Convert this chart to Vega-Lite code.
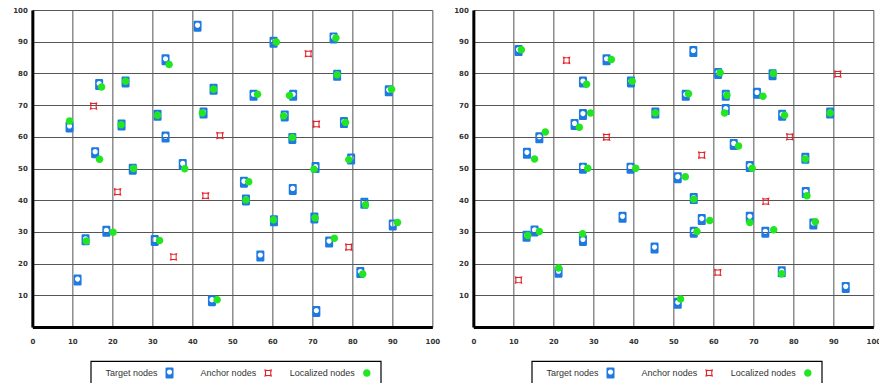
{
  "$schema": "https://vega.github.io/schema/vega-lite/v6.json",
  "background": "white",
  "padding": {"left": 12, "top": 6, "right": 0, "bottom": 0},
  "bounds": "full",
  "spacing": 13,
  "config": {
    "view": {"stroke": null},
    "axis": {
      "grid": true, "gridColor": "#555555", "gridWidth": 1, "gridOpacity": 1,
      "domainColor": "black", "domainWidth": 3, "ticks": false, "labelFlush": false,
      "labelFont": "DejaVu Sans", "labelFontWeight": "bold", "labelFontSize": 7, "labelColor": "#333",
      "title": null
    },
    "point": {"filled": true, "opacity": 1, "size": 121, "strokeWidth": 0}
  },
  "datasets": {
    "legend": [{"t":"Target nodes"},{"t":"Anchor nodes"},{"t":"Localized nodes"}],
    "left": [
      {"t":"Target nodes","x":41.3,"y":94.9},{"t":"Target nodes","x":33.3,"y":84.3},{"t":"Target nodes","x":16.7,"y":76.5},{"t":"Target nodes","x":23.3,"y":77.3},{"t":"Target nodes","x":9.3,"y":63.1},{"t":"Target nodes","x":22.3,"y":63.7},{"t":"Target nodes","x":31.3,"y":66.8},{"t":"Target nodes","x":33.3,"y":59.9},{"t":"Target nodes","x":42.8,"y":67.5},{"t":"Target nodes","x":45.3,"y":75},{"t":"Target nodes","x":15.7,"y":55},{"t":"Target nodes","x":25.1,"y":49.8},{"t":"Target nodes","x":37.6,"y":51.3},{"t":"Target nodes","x":60.3,"y":89.8},{"t":"Target nodes","x":75.3,"y":91.2},{"t":"Target nodes","x":76.2,"y":79.4},{"t":"Target nodes","x":55.3,"y":73.1},{"t":"Target nodes","x":65.2,"y":73.1},{"t":"Target nodes","x":89.1,"y":74.5},{"t":"Target nodes","x":63.1,"y":66.6},{"t":"Target nodes","x":77.9,"y":64.5},{"t":"Target nodes","x":65,"y":59.5},{"t":"Target nodes","x":79.7,"y":53},{"t":"Target nodes","x":70.8,"y":50.3},{"t":"Target nodes","x":13.3,"y":27.5},{"t":"Target nodes","x":18.5,"y":30.2},{"t":"Target nodes","x":30.6,"y":27.3},{"t":"Target nodes","x":11.3,"y":14.8},{"t":"Target nodes","x":44.9,"y":8.3},{"t":"Target nodes","x":52.9,"y":45.7},{"t":"Target nodes","x":65.1,"y":43.4},{"t":"Target nodes","x":53.4,"y":40.1},{"t":"Target nodes","x":83,"y":39},{"t":"Target nodes","x":60.4,"y":33.5},{"t":"Target nodes","x":70.5,"y":34.4},{"t":"Target nodes","x":90.1,"y":32.2},{"t":"Target nodes","x":74.2,"y":26.8},{"t":"Target nodes","x":57,"y":22.4},{"t":"Target nodes","x":82,"y":17.2},{"t":"Target nodes","x":71,"y":4.9},
      {"t":"Anchor nodes","x":15.3,"y":69.7},{"t":"Anchor nodes","x":46.9,"y":60.4},{"t":"Anchor nodes","x":69,"y":86.2},{"t":"Anchor nodes","x":71,"y":64},{"t":"Anchor nodes","x":21.3,"y":42.6},{"t":"Anchor nodes","x":43.3,"y":41.4},{"t":"Anchor nodes","x":35.3,"y":22.1},{"t":"Anchor nodes","x":79.1,"y":25.2},
      {"t":"Localized nodes","x":34.2,"y":82.8},{"t":"Localized nodes","x":17.3,"y":75.7},{"t":"Localized nodes","x":23.3,"y":77.5},{"t":"Localized nodes","x":9.3,"y":65},{"t":"Localized nodes","x":22.2,"y":63.8},{"t":"Localized nodes","x":31.3,"y":66.8},{"t":"Localized nodes","x":42.5,"y":67.5},{"t":"Localized nodes","x":45.3,"y":75},{"t":"Localized nodes","x":16.8,"y":52.9},{"t":"Localized nodes","x":25.3,"y":50},{"t":"Localized nodes","x":38.1,"y":49.9},{"t":"Localized nodes","x":61,"y":89.9},{"t":"Localized nodes","x":75.9,"y":91.2},{"t":"Localized nodes","x":76.2,"y":79.6},{"t":"Localized nodes","x":56.3,"y":73.4},{"t":"Localized nodes","x":64.3,"y":73},{"t":"Localized nodes","x":89.8,"y":75},{"t":"Localized nodes","x":62.8,"y":66.6},{"t":"Localized nodes","x":78.3,"y":64.5},{"t":"Localized nodes","x":65,"y":59.8},{"t":"Localized nodes","x":79.1,"y":52.8},{"t":"Localized nodes","x":70.4,"y":49.8},{"t":"Localized nodes","x":13.5,"y":27.1},{"t":"Localized nodes","x":20.2,"y":29.9},{"t":"Localized nodes","x":31.8,"y":27.3},{"t":"Localized nodes","x":46.2,"y":8.6},{"t":"Localized nodes","x":54.1,"y":45.8},{"t":"Localized nodes","x":53.4,"y":40.1},{"t":"Localized nodes","x":83.3,"y":38.6},{"t":"Localized nodes","x":60.3,"y":33.8},{"t":"Localized nodes","x":70.7,"y":34.4},{"t":"Localized nodes","x":91.3,"y":33},{"t":"Localized nodes","x":75.5,"y":28},{"t":"Localized nodes","x":82.6,"y":16.7}
    ],
    "right": [
      {"t":"Target nodes","x":11.3,"y":87.2},{"t":"Target nodes","x":33.3,"y":84.3},{"t":"Target nodes","x":27.4,"y":77.3},{"t":"Target nodes","x":39.4,"y":77.3},{"t":"Target nodes","x":45.5,"y":67.5},{"t":"Target nodes","x":27.4,"y":67},{"t":"Target nodes","x":25.3,"y":63.9},{"t":"Target nodes","x":16.5,"y":59.7},{"t":"Target nodes","x":13.4,"y":54.8},{"t":"Target nodes","x":27.4,"y":50.1},{"t":"Target nodes","x":39.3,"y":50.1},{"t":"Target nodes","x":55,"y":86.9},{"t":"Target nodes","x":61.2,"y":80},{"t":"Target nodes","x":74.8,"y":79.6},{"t":"Target nodes","x":53.1,"y":73.1},{"t":"Target nodes","x":63.1,"y":73.1},{"t":"Target nodes","x":70.9,"y":73.7},{"t":"Target nodes","x":63.1,"y":68.6},{"t":"Target nodes","x":77.2,"y":66.8},{"t":"Target nodes","x":89.2,"y":67.5},{"t":"Target nodes","x":65.1,"y":57.6},{"t":"Target nodes","x":69.1,"y":50.6},{"t":"Target nodes","x":83,"y":53.2},{"t":"Target nodes","x":37.3,"y":34.6},{"t":"Target nodes","x":13.3,"y":28.6},{"t":"Target nodes","x":15.3,"y":30.3},{"t":"Target nodes","x":27.4,"y":27.3},{"t":"Target nodes","x":21.3,"y":17.3},{"t":"Target nodes","x":45.3,"y":24.9},{"t":"Target nodes","x":51.1,"y":47.1},{"t":"Target nodes","x":55.1,"y":40.5},{"t":"Target nodes","x":83.1,"y":42.4},{"t":"Target nodes","x":57.1,"y":33.9},{"t":"Target nodes","x":69.1,"y":34.6},{"t":"Target nodes","x":55.1,"y":29.9},{"t":"Target nodes","x":73,"y":29.9},{"t":"Target nodes","x":85,"y":32.5},{"t":"Target nodes","x":77.1,"y":17.4},{"t":"Target nodes","x":93.1,"y":12.5},{"t":"Target nodes","x":51.1,"y":7.5},
      {"t":"Anchor nodes","x":23.3,"y":84.1},{"t":"Anchor nodes","x":33.3,"y":59.9},{"t":"Anchor nodes","x":91.1,"y":79.8},{"t":"Anchor nodes","x":79.1,"y":60},{"t":"Anchor nodes","x":57.1,"y":54.2},{"t":"Anchor nodes","x":11.3,"y":14.8},{"t":"Anchor nodes","x":73.1,"y":39.6},{"t":"Anchor nodes","x":61.1,"y":17.2},
      {"t":"Localized nodes","x":12,"y":87.5},{"t":"Localized nodes","x":34.5,"y":84.4},{"t":"Localized nodes","x":28.3,"y":76.6},{"t":"Localized nodes","x":39.7,"y":77.5},{"t":"Localized nodes","x":45.5,"y":67.5},{"t":"Localized nodes","x":29.3,"y":67.5},{"t":"Localized nodes","x":26.5,"y":63},{"t":"Localized nodes","x":18,"y":61.5},{"t":"Localized nodes","x":15.3,"y":53},{"t":"Localized nodes","x":28.6,"y":50.1},{"t":"Localized nodes","x":40.6,"y":50.1},{"t":"Localized nodes","x":61.7,"y":80.2},{"t":"Localized nodes","x":75,"y":80},{"t":"Localized nodes","x":53.8,"y":73.6},{"t":"Localized nodes","x":63.4,"y":73.1},{"t":"Localized nodes","x":72.4,"y":72.8},{"t":"Localized nodes","x":62.8,"y":67.5},{"t":"Localized nodes","x":77.8,"y":66.8},{"t":"Localized nodes","x":89.2,"y":67.5},{"t":"Localized nodes","x":66.3,"y":57.1},{"t":"Localized nodes","x":69.7,"y":50.1},{"t":"Localized nodes","x":83,"y":53},{"t":"Localized nodes","x":13.6,"y":28.9},{"t":"Localized nodes","x":16.5,"y":30.1},{"t":"Localized nodes","x":27.3,"y":29.4},{"t":"Localized nodes","x":21.3,"y":18.6},{"t":"Localized nodes","x":53,"y":47.4},{"t":"Localized nodes","x":55.1,"y":40.3},{"t":"Localized nodes","x":83.4,"y":41.4},{"t":"Localized nodes","x":59.1,"y":33.6},{"t":"Localized nodes","x":69.1,"y":33},{"t":"Localized nodes","x":55.9,"y":30.1},{"t":"Localized nodes","x":75.1,"y":30.7},{"t":"Localized nodes","x":85.5,"y":33.2},{"t":"Localized nodes","x":77.1,"y":16.8},{"t":"Localized nodes","x":51.8,"y":8.8}
    ]
  },
  "hconcat": [
    {
      "vconcat": [
        {
          "width": 400, "height": 317,
          "data": {"name": "left"},
          "mark": {"type": "point"},
          "encoding": {
            "x": {"field": "x", "type": "quantitative", "scale": {"domain": [0, 100], "nice": false},
                  "axis": {"values": [0,10,20,30,40,50,60,70,80,90,100], "labelPadding": 10}},
            "y": {"field": "y", "type": "quantitative", "scale": {"domain": [0, 100], "nice": false},
                  "axis": {"values": [10,20,30,40,50,60,70,80,90,100], "labelPadding": 5}},
            "color": {"field": "t", "type": "nominal", "legend": null,
              "scale": {"domain": ["Target nodes", "Anchor nodes", "Localized nodes"], "range": ["#1e7ae0", "#e42127", "#22e622"]}},
            "shape": {"field": "t", "type": "nominal", "legend": null,
              "scale": {"domain": ["Target nodes", "Anchor nodes", "Localized nodes"],
                        "range": [
                          "M-0.53,-1 L0.53,-1 Q0.73,-1 0.73,-0.8 L0.73,0.8 Q0.73,1 0.53,1 L-0.53,1 Q-0.73,1 -0.73,0.8 L-0.73,-0.8 Q-0.73,-1 -0.53,-1 Z M0.47,-0.18 A0.47,0.47 0 1 0 -0.47,-0.18 A0.47,0.47 0 1 0 0.47,-0.18 Z",
                          "M-0.7,-0.7 Q0,-0.4 0.7,-0.7 Q0.4,0 0.7,0.7 Q0,0.4 -0.7,0.7 Q-0.4,0 -0.7,-0.7 Z M-0.38,-0.38 L-0.38,0.38 L0.38,0.38 L0.38,-0.38 Z",
                          "M0.68,0 A0.68,0.68 0 1 1 -0.68,0 A0.68,0.68 0 1 1 0.68,0 Z"
                        ]}}
          }
        },
        {
          "width": 290, "height": 24,
          "view": {"stroke": "black", "strokeWidth": 1.2, "fill": "white"},
          "data": {"name": "legend"},
          "encoding": {
            "x": {"field": "t", "type": "nominal", "axis": null,
                  "scale": {"type": "point", "domain": ["Target nodes", "Anchor nodes", "Localized nodes"], "padding": 0.47, "align": 0.85}}
          },
          "layer": [
            {"mark": {"type": "text", "align": "right", "dx": -12, "font": "Liberation Sans", "fontSize": 9, "color": "#333"},
             "encoding": {"text": {"field": "t"}}},
            {"mark": {"type": "point"},
             "encoding": {
               "color": {"field": "t", "type": "nominal", "legend": null,
                 "scale": {"domain": ["Target nodes", "Anchor nodes", "Localized nodes"], "range": ["#1e7ae0", "#e42127", "#22e622"]}},
               "shape": {"field": "t", "type": "nominal", "legend": null,
                 "scale": {"domain": ["Target nodes", "Anchor nodes", "Localized nodes"],
                           "range": [
                             "M-0.53,-1 L0.53,-1 Q0.73,-1 0.73,-0.8 L0.73,0.8 Q0.73,1 0.53,1 L-0.53,1 Q-0.73,1 -0.73,0.8 L-0.73,-0.8 Q-0.73,-1 -0.53,-1 Z M0.47,-0.18 A0.47,0.47 0 1 0 -0.47,-0.18 A0.47,0.47 0 1 0 0.47,-0.18 Z",
                             "M-0.7,-0.7 Q0,-0.4 0.7,-0.7 Q0.4,0 0.7,0.7 Q0,0.4 -0.7,0.7 Q-0.4,0 -0.7,-0.7 Z M-0.38,-0.38 L-0.38,0.38 L0.38,0.38 L0.38,-0.38 Z",
                             "M0.68,0 A0.68,0.68 0 1 1 -0.68,0 A0.68,0.68 0 1 1 0.68,0 Z"
                           ]}}
             }}
          ]
        }
      ],
      "bounds": "full", "center": true, "spacing": 16
    },
    {
      "vconcat": [
        {
          "width": 400, "height": 317,
          "data": {"name": "right"},
          "mark": {"type": "point"},
          "encoding": {
            "x": {"field": "x", "type": "quantitative", "scale": {"domain": [0, 100], "nice": false},
                  "axis": {"values": [0,10,20,30,40,50,60,70,80,90,100], "labelPadding": 10}},
            "y": {"field": "y", "type": "quantitative", "scale": {"domain": [0, 100], "nice": false},
                  "axis": {"values": [10,20,30,40,50,60,70,80,90,100], "labelPadding": 5}},
            "color": {"field": "t", "type": "nominal", "legend": null,
              "scale": {"domain": ["Target nodes", "Anchor nodes", "Localized nodes"], "range": ["#1e7ae0", "#e42127", "#22e622"]}},
            "shape": {"field": "t", "type": "nominal", "legend": null,
              "scale": {"domain": ["Target nodes", "Anchor nodes", "Localized nodes"],
                        "range": [
                          "M-0.53,-1 L0.53,-1 Q0.73,-1 0.73,-0.8 L0.73,0.8 Q0.73,1 0.53,1 L-0.53,1 Q-0.73,1 -0.73,0.8 L-0.73,-0.8 Q-0.73,-1 -0.53,-1 Z M0.47,-0.18 A0.47,0.47 0 1 0 -0.47,-0.18 A0.47,0.47 0 1 0 0.47,-0.18 Z",
                          "M-0.7,-0.7 Q0,-0.4 0.7,-0.7 Q0.4,0 0.7,0.7 Q0,0.4 -0.7,0.7 Q-0.4,0 -0.7,-0.7 Z M-0.38,-0.38 L-0.38,0.38 L0.38,0.38 L0.38,-0.38 Z",
                          "M0.68,0 A0.68,0.68 0 1 1 -0.68,0 A0.68,0.68 0 1 1 0.68,0 Z"
                        ]}}
          }
        },
        {
          "width": 290, "height": 24,
          "view": {"stroke": "black", "strokeWidth": 1.2, "fill": "white"},
          "data": {"name": "legend"},
          "encoding": {
            "x": {"field": "t", "type": "nominal", "axis": null,
                  "scale": {"type": "point", "domain": ["Target nodes", "Anchor nodes", "Localized nodes"], "padding": 0.47, "align": 0.85}}
          },
          "layer": [
            {"mark": {"type": "text", "align": "right", "dx": -12, "font": "Liberation Sans", "fontSize": 9, "color": "#333"},
             "encoding": {"text": {"field": "t"}}},
            {"mark": {"type": "point"},
             "encoding": {
               "color": {"field": "t", "type": "nominal", "legend": null,
                 "scale": {"domain": ["Target nodes", "Anchor nodes", "Localized nodes"], "range": ["#1e7ae0", "#e42127", "#22e622"]}},
               "shape": {"field": "t", "type": "nominal", "legend": null,
                 "scale": {"domain": ["Target nodes", "Anchor nodes", "Localized nodes"],
                           "range": [
                             "M-0.53,-1 L0.53,-1 Q0.73,-1 0.73,-0.8 L0.73,0.8 Q0.73,1 0.53,1 L-0.53,1 Q-0.73,1 -0.73,0.8 L-0.73,-0.8 Q-0.73,-1 -0.53,-1 Z M0.47,-0.18 A0.47,0.47 0 1 0 -0.47,-0.18 A0.47,0.47 0 1 0 0.47,-0.18 Z",
                             "M-0.7,-0.7 Q0,-0.4 0.7,-0.7 Q0.4,0 0.7,0.7 Q0,0.4 -0.7,0.7 Q-0.4,0 -0.7,-0.7 Z M-0.38,-0.38 L-0.38,0.38 L0.38,0.38 L0.38,-0.38 Z",
                             "M0.68,0 A0.68,0.68 0 1 1 -0.68,0 A0.68,0.68 0 1 1 0.68,0 Z"
                           ]}}
             }}
          ]
        }
      ],
      "bounds": "full", "center": true, "spacing": 16
    }
  ]
}
